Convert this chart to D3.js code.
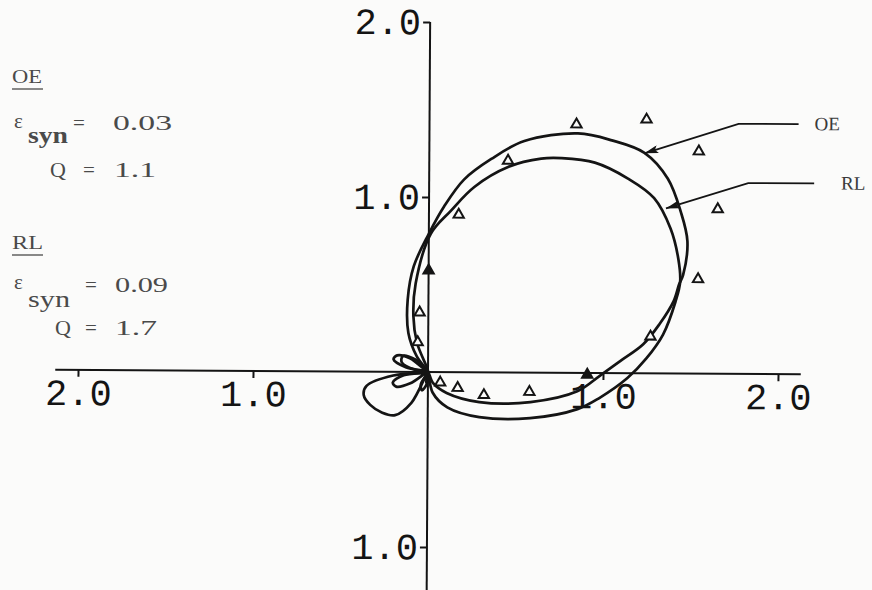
<!DOCTYPE html>
<html>
<head>
<meta charset="utf-8">
<script src="https://cdn.jsdelivr.net/npm/d3@7"></script>
<style>
  html, body { margin: 0; padding: 0; background: #fbfbfa; }
  svg { display: block; }
</style>
</head>
<body>
<svg id="chart" width="872" height="590"></svg>
<script>
// Radiation pattern OE: angle in degrees (counter-clockwise from +x) and radius
const oeAngles = [-80, -65, -48, -30, -16, -7, -1, 3.6, 7.7, 12, 16.4, 19.6, 21.2, 27.1, 32.7,
  39.2, 45.7, 51.9, 58.2, 67.7, 73.8, 79.7, 84.8, 90, 98, 106, 117, 126, 133,
  143, 152, 160, 168, 178, 188, 197, 205, 213, 224, 240, 252, 264];
const oeRadii = [0, 0.07, 0.16, 0.34, 0.61, 0.86, 0.98, 1.10, 1.24, 1.35, 1.46, 1.52, 1.56, 1.66, 1.71,
  1.76, 1.76, 1.69, 1.61, 1.43, 1.27, 1.12, 0.95, 0.79, 0.61, 0.43, 0.25, 0.11, 0,
  0.13, 0.20, 0.21, 0.13, 0, 0.14, 0.21, 0.20, 0.12, 0, 0.08, 0.11, 0.07];

// Radiation pattern RL
const rlAngles = [-88, -77, -61, -41, -24, -13.6, -8.3, -1.4, 3.9, 9.4, 16.2, 20, 24.7, 30.9, 37.9,
  44.4, 51.8, 58.4, 62.4, 68.9, 76.3, 82.3, 89.2, 98.3, 105, 111, 118,
  135, 148, 160, 170, 178, 186, 193, 200, 210, 222, 233, 242, 250, 260, 266];
const rlRadii = [0, 0.12, 0.23, 0.39, 0.64, 0.88, 0.99, 1.14, 1.25, 1.36, 1.47, 1.53, 1.57, 1.61, 1.63,
  1.59, 1.53, 1.44, 1.38, 1.26, 1.09, 0.93, 0.79, 0.51, 0.33, 0.18, 0,
  0.10, 0.17, 0.16, 0.08, 0, 0.20, 0.36, 0.39, 0.38, 0.35, 0.31, 0.20, 0, 0.06, 0.05];

// Measured points (x, y) and whether the marker is solid
const measX = [0.84, 1.24, 1.54, 1.65, 1.54, 1.27, 0.91, 0.58, 0.32, 0.17, 0.07, 0.45, 0.17, 0.00, -0.05, -0.06];
const measY = [1.42, 1.45, 1.27, 0.94, 0.54, 0.21, -0.01, -0.11, -0.13, -0.09, -0.06, 1.21, 0.90, 0.58, 0.34, 0.17];
const measSolid = [false, false, false, false, false, false, true, false, false, false, false, false, false, true, false, false];

// Axis ticks
const xTickValues = [-2, -1, 1, 2];
const xTickLabels = ["2.0", "1.0", "1.0", "2.0"];
const yTickValues = [2, 1, -1];
const yTickLabels = ["2.0", "1.0", "1.0"];

// Leader annotations: tip on the curve, elbow, end of the horizontal run
const leaderNames = ["OE", "RL"];
const leaderTipX = [1.229, 1.354];
const leaderTipY = [1.257, 0.943];
const leaderElbowX = [1.766, 1.823];
const leaderElbowY = [1.429, 1.091];
const leaderEndX = [2.109, 2.20];
const leaderGap = [16, 27];

const svg = d3.select("#chart");

const x = d3.scaleLinear().domain([-2, 2]).range([78, 778]);
const y = d3.scaleLinear().domain([-1, 2]).range([547, 22]);

const ink = "#141414";
const plot = svg.append("g")
  .attr("transform", `rotate(0.35, ${x(0)}, ${y(0)})`);

// Arrowhead marker
svg.append("defs").append("marker")
  .attr("id", "arrow")
  .attr("markerUnits", "userSpaceOnUse")
  .attr("viewBox", "0 0 14 8")
  .attr("refX", 14).attr("refY", 4)
  .attr("markerWidth", 14).attr("markerHeight", 8)
  .attr("orient", "auto")
  .append("path")
  .attr("d", "M0,0 L14,4 L0,8 L3,4 Z")
  .attr("fill", ink);

// Axis lines
plot.append("line")
  .attr("x1", x(-2.13)).attr("x2", x(2.13))
  .attr("y1", y(0)).attr("y2", y(0))
  .attr("stroke", ink).attr("stroke-width", 2);
plot.append("line")
  .attr("x1", x(0)).attr("x2", x(0))
  .attr("y1", y(2)).attr("y2", y(-1.4))
  .attr("stroke", ink).attr("stroke-width", 2);

const tickFont = "'Liberation Mono', 'DejaVu Sans Mono', monospace";

const gx = plot.append("g")
  .attr("transform", `translate(0,${y(0)})`)
  .call(d3.axisBottom(x).tickValues(xTickValues)
    .tickFormat((d, i) => xTickLabels[i]).tickSize(7).tickPadding(2));
gx.select(".domain").remove();
gx.selectAll(".tick line").attr("stroke", ink).attr("stroke-width", 2);
gx.selectAll(".tick text")
  .attr("fill", ink)
  .attr("font-family", tickFont)
  .attr("font-size", 37);

const gy = plot.append("g")
  .attr("transform", `translate(${x(0)},0)`)
  .call(d3.axisLeft(y).tickValues(yTickValues)
    .tickFormat((d, i) => yTickLabels[i]).tickSize(7).tickPadding(2));
gy.select(".domain").remove();
gy.selectAll(".tick line").attr("stroke", ink).attr("stroke-width", 2);
gy.selectAll(".tick text")
  .attr("fill", ink)
  .attr("font-family", tickFont)
  .attr("font-size", 37);

// Pattern curves
const toXY = (angles, radii) => angles.map((a, i) => [
  radii[i] * Math.cos(a * Math.PI / 180),
  radii[i] * Math.sin(a * Math.PI / 180)
]);
const pattern = d3.line()
  .x(d => x(d[0]))
  .y(d => y(d[1]))
  .curve(d3.curveCatmullRomClosed.alpha(0.5));

[toXY(oeAngles, oeRadii), toXY(rlAngles, rlRadii)].forEach(pts => {
  plot.append("path")
    .attr("d", pattern(pts))
    .attr("fill", "none")
    .attr("stroke", ink)
    .attr("stroke-width", 2.7)
    .attr("stroke-linejoin", "round");
});

// Measured points
const tri = d3.symbol().type(d3.symbolTriangle).size(46);
plot.selectAll(".meas")
  .data(measX.map((v, i) => i))
  .join("path")
  .attr("class", "meas")
  .attr("transform", i => `translate(${x(measX[i])},${y(measY[i])})`)
  .attr("d", tri)
  .attr("fill", i => measSolid[i] ? ink : "#fbfbfa")
  .attr("stroke", ink)
  .attr("stroke-width", 2);

// Leaders with labels
leaderNames.forEach((name, i) => {
  plot.append("polyline")
    .attr("points", [
      [x(leaderEndX[i]), y(leaderElbowY[i])],
      [x(leaderElbowX[i]), y(leaderElbowY[i])],
      [x(leaderTipX[i]), y(leaderTipY[i])]
    ].map(p => p.join(",")).join(" "))
    .attr("fill", "none")
    .attr("stroke", ink)
    .attr("stroke-width", 1.8)
    .attr("marker-end", "url(#arrow)");
  plot.append("text")
    .attr("x", x(leaderEndX[i]) + leaderGap[i])
    .attr("y", y(leaderElbowY[i]) + 6)
    .attr("font-family", "'Liberation Serif', serif")
    .attr("font-size", 19)
    .attr("fill", "#3a3a3a")
    .text(name);
});

// Parameter legend
const serif = "'Liberation Serif', 'DejaVu Serif', serif";
const legendInk = "#4a4a4a";
const legend = svg.append("g").attr("fill", legendInk).attr("font-family", serif);

function put(txt, px, py, size, opts = {}) {
  const t = legend.append("text")
    .attr("x", px).attr("y", py)
    .attr("font-size", size)
    .text(txt);
  if (opts.bold) t.attr("font-weight", "bold");
  if (opts.len) t.attr("textLength", opts.len).attr("lengthAdjust", "spacingAndGlyphs");
  return t;
}

// OE block
put("OE", 12, 83, 19, { len: 30 });
legend.append("line").attr("x1", 12).attr("x2", 43).attr("y1", 89).attr("y2", 89)
  .attr("stroke", legendInk).attr("stroke-width", 1.3);
put("\u03b5", 14, 128, 21);
put("syn", 28, 143, 23, { bold: true, len: 40 });
put("=", 73, 130, 21);
put("0.03", 113, 130, 22, { len: 59 });
put("Q", 50, 177, 22);
put("=", 83, 177, 21);
put("1.1", 114, 177, 22, { len: 42 });

// RL block
put("RL", 12, 249, 19, { len: 31 });
legend.append("line").attr("x1", 12).attr("x2", 43).attr("y1", 255).attr("y2", 255)
  .attr("stroke", legendInk).attr("stroke-width", 1.3);
put("\u03b5", 14, 289, 21);
put("syn", 28, 307, 23, { len: 42 });
put("=", 85, 292, 21);
put("0.09", 115, 292, 22, { len: 53 });
put("Q", 55, 335, 22);
put("=", 85, 335, 21);
put("1.7", 115, 335, 22, { len: 42 });
</script>
</body>
</html>
